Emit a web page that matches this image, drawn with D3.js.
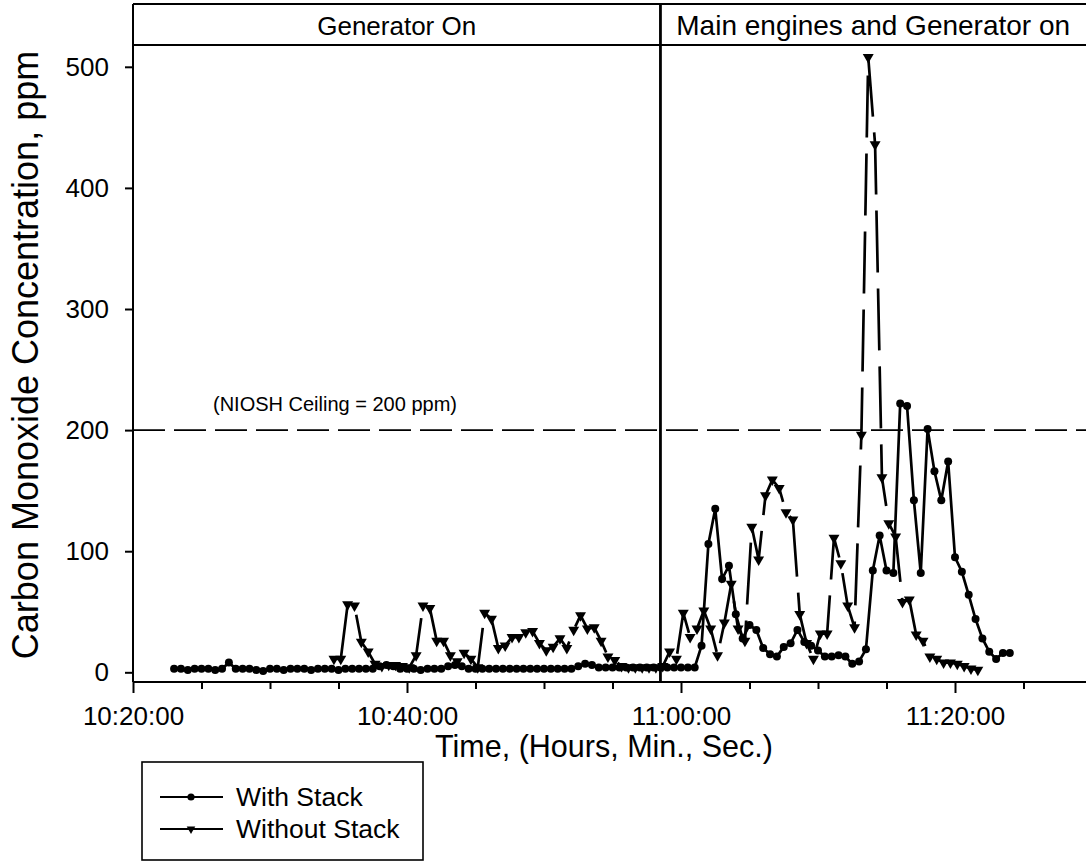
<!DOCTYPE html>
<html>
<head>
<meta charset="utf-8">
<script src="https://cdn.jsdelivr.net/npm/d3@7"></script>
<style>
body { margin: 0; background: #fff; }
svg { display: block; font-family: "Liberation Sans", Arial, sans-serif; }
</style>
</head>
<body>
<div id="chart-area"></div>
<script>

// Data: CO readings every 30 seconds (ppm)
var sampleSeconds = 30;
var withStackStart = "10:23:00";
var withStack = [
    3, 3, 2, 3, 3, 3, 2, 3, 8, 3,
    3, 3, 2, 1, 3, 3, 2, 3, 3, 3,
    2, 3, 3, 3, 2, 3, 3, 3, 3, 3,
    5, 6, 5, 3, 3, 3, 2, 3, 3, 3,
    5, 6, 5, 3, 3, 3, 3, 3, 3, 3,
    3, 3, 3, 3, 3, 3, 3, 3, 3, 5,
    7, 6, 4, 4, 4, 4, 4, 4, 4, 4,
    4, 4, 4, 4, 4, 4, 4, 22, 106, 135,
    77, 88, 48, 28, 39, 35, 20, 15, 13, 21,
    24, 35, 25, 22, 18, 13, 13, 14, 13, 7,
    9, 19, 84, 113, 84, 82, 222, 220, 142, 82,
    201, 166, 142, 174, 95, 83, 64, 44, 28, 17,
    11, 16, 16
];

var withoutStackStart = "10:34:40";
var withoutStack = [
    11, 11, 56, 55, 25, 17, 7, 5, 6, 6,
    5, 4, 14, 55, 53, 26, 26, 14, 9, 16,
    11, 4, 49, 44, 20, 22, 29, 29, 33, 34,
    24, 18, 21, 28, 20, 35, 47, 36, 37, 26,
    13, 10, 5, 4, 4, 4, 4, 4, 5, 17,
    11, 49, 29, 36, 51, 36, 14, 41, 73, 36,
    26, 120, 93, 146, 159, 152, 132, 126, 48, 24,
    11, 32, 32, 111, 90, 55, 37, 196, 508, 436,
    161, 123, 112, 58, 60, 31, 26, 13, 11, 8,
    8, 7, 5, 3, 2
];

var seriesNames = ["With Stack", "Without Stack"];
var xTickLabels = ["10:20:00", "10:40:00", "11:00:00", "11:20:00"];
var xDomain = ["10:20:00", "11:30:00"];
var yTicks = [0, 100, 200, 300, 400, 500];
var phaseNames = ["Generator On", "Main engines and Generator on"];
var phaseChange = "10:58:30";
var nioshCeiling = 200;

var parseTime = d3.timeParse("%H:%M:%S");

function toPoints(start, values) {
    var t0 = parseTime(start);
    return values.map(function(v, i) {
        return { time: d3.timeSecond.offset(t0, i * sampleSeconds), value: v };
    });
}

var withData = toPoints(withStackStart, withStack);
var withoutData = toPoints(withoutStackStart, withoutStack);

var width = 1086, height = 864;
var plot = { left: 133, right: 1092, top: 4, header: 45, bottom: 682 };

var svg = d3.select("#chart-area")
    .append("svg")
        .attr("width", width)
        .attr("height", height);

svg.append("rect")
    .attr("width", width)
    .attr("height", height)
    .attr("fill", "#fff");

// Scales
var x = d3.scaleTime()
    .domain(xDomain.map(parseTime))
    .range([plot.left, plot.right]);
var y = d3.scaleLinear()
    .domain([-8, 518])
    .range([plot.bottom, plot.header]);

// Y Axis
var yAxisCall = d3.axisLeft(y)
    .tickValues(yTicks)
    .tickSize(8)
    .tickPadding(16);
var yAxis = svg.append("g")
    .attr("transform", "translate(" + plot.left + ",0)")
    .call(yAxisCall);
yAxis.select(".domain").remove();
yAxis.selectAll("line").attr("stroke-width", 2);
yAxis.selectAll("text")
    .attr("font-size", "26px")
    .attr("font-family", "Liberation Sans, Arial, sans-serif")
    .attr("fill", "#000");

// X Axis, labelled majors and 5 minute minors
var majors = xTickLabels.map(parseTime);
var minors = d3.timeMinute.every(5).range(parseTime("10:20:00"), parseTime("11:30:00"))
    .filter(function(d) { return d.getMinutes() % 20 != 0; });

var xAxisCall = d3.axisBottom(x)
    .tickValues(majors)
    .tickSize(11)
    .tickPadding(14)
    .tickFormat(d3.timeFormat("%H:%M:%S"));
var xAxis = svg.append("g")
    .attr("transform", "translate(0," + plot.bottom + ")")
    .call(xAxisCall);
xAxis.select(".domain").remove();
xAxis.selectAll("line").attr("stroke-width", 2);
xAxis.selectAll("text")
    .attr("font-size", "26px")
    .attr("font-family", "Liberation Sans, Arial, sans-serif")
    .attr("fill", "#000");

var xMinor = svg.append("g")
    .attr("transform", "translate(0," + plot.bottom + ")")
    .call(d3.axisBottom(x).tickValues(minors).tickSize(7).tickFormat(""));
xMinor.select(".domain").remove();
xMinor.selectAll("line").attr("stroke-width", 2);

// Frame
var frame = svg.append("g").attr("stroke", "#000").attr("stroke-width", 2);
frame.append("line")
    .attr("x1", plot.left).attr("x2", width)
    .attr("y1", plot.top).attr("y2", plot.top);
frame.append("line")
    .attr("x1", plot.left).attr("x2", width)
    .attr("y1", plot.header).attr("y2", plot.header);
frame.append("line")
    .attr("x1", plot.left).attr("x2", width)
    .attr("y1", plot.bottom).attr("y2", plot.bottom);
frame.append("line")
    .attr("x1", plot.left).attr("x2", plot.left)
    .attr("y1", plot.top).attr("y2", plot.bottom);
frame.append("line")
    .attr("x1", x(parseTime(phaseChange))).attr("x2", x(parseTime(phaseChange)))
    .attr("y1", plot.top).attr("y2", plot.bottom)
    .attr("stroke-width", 2.8);

// Phase labels in the header band
var phaseX = [(plot.left + x(parseTime(phaseChange))) / 2, (x(parseTime(phaseChange)) + width) / 2];
var phaseSize = ["26px", "28px"];
phaseNames.forEach(function(name, i) {
    svg.append("text")
        .attr("x", phaseX[i])
        .attr("y", 35)
        .attr("font-size", phaseSize[i])
        .attr("text-anchor", "middle")
        .text(name);
});

// NIOSH ceiling
svg.append("line")
    .attr("x1", plot.left).attr("x2", width)
    .attr("y1", y(nioshCeiling)).attr("y2", y(nioshCeiling))
    .attr("stroke", "#000")
    .attr("stroke-width", 1.6)
    .attr("stroke-dasharray", "32,9");
svg.append("text")
    .attr("x", 213)
    .attr("y", y(nioshCeiling) - 19)
    .attr("font-size", "20px")
    .text("(NIOSH Ceiling = " + nioshCeiling + " ppm)");

// Series
var line = d3.line()
    .x(function(d) { return x(d.time); })
    .y(function(d) { return y(d.value); });

svg.append("path")
    .datum(withoutData)
    .attr("fill", "none")
    .attr("stroke", "#000")
    .attr("stroke-width", 2.7)
    .attr("stroke-dasharray", "62,16")
    .attr("d", line);

svg.append("path")
    .datum(withData)
    .attr("fill", "none")
    .attr("stroke", "#000")
    .attr("stroke-width", 2.7)
    .attr("d", line);

var tri = d3.symbol().type(d3.symbolTriangle).size(52);

svg.append("g").selectAll("path")
    .data(withoutData)
    .enter().append("path")
        .attr("d", tri)
        .attr("fill", "#000")
        .attr("transform", function(d) {
            return "translate(" + x(d.time) + "," + y(d.value) + ") rotate(180)";
        });

svg.append("g").selectAll("circle")
    .data(withData)
    .enter().append("circle")
        .attr("cx", function(d) { return x(d.time); })
        .attr("cy", function(d) { return y(d.value); })
        .attr("r", 4)
        .attr("fill", "#000");

// Axis titles
svg.append("text")
    .attr("transform", "rotate(-90)")
    .attr("x", -355)
    .attr("y", 38)
    .attr("font-size", "36px")
    .attr("text-anchor", "middle")
    .text("Carbon Monoxide Concentration, ppm");

svg.append("text")
    .attr("x", 604)
    .attr("y", 757)
    .attr("font-size", "30.5px")
    .attr("text-anchor", "middle")
    .text("Time, (Hours, Min., Sec.)");

// Legend
var legend = svg.append("g");
legend.append("rect")
    .attr("x", 142).attr("y", 762)
    .attr("width", 281).attr("height", 98)
    .attr("fill", "none")
    .attr("stroke", "#000")
    .attr("stroke-width", 1.6);

seriesNames.forEach(function(name, i) {
    var row = legend.append("g")
        .attr("transform", "translate(160," + (797 + i * 32) + ")");
    row.append("line")
        .attr("x1", 0).attr("x2", 63)
        .attr("stroke", "#000")
        .attr("stroke-width", 2);
    if (i == 0) {
        row.append("circle").attr("cx", 31).attr("r", 3.6).attr("fill", "#000");
    } else {
        row.append("path").attr("d", d3.symbol().type(d3.symbolTriangle).size(32)).attr("fill", "#000")
            .attr("transform", "translate(31,0) rotate(180)");
    }
    row.append("text")
        .attr("x", 76)
        .attr("y", 9)
        .attr("font-size", "26.5px")
        .text(name);
});

</script>
</body>
</html>
